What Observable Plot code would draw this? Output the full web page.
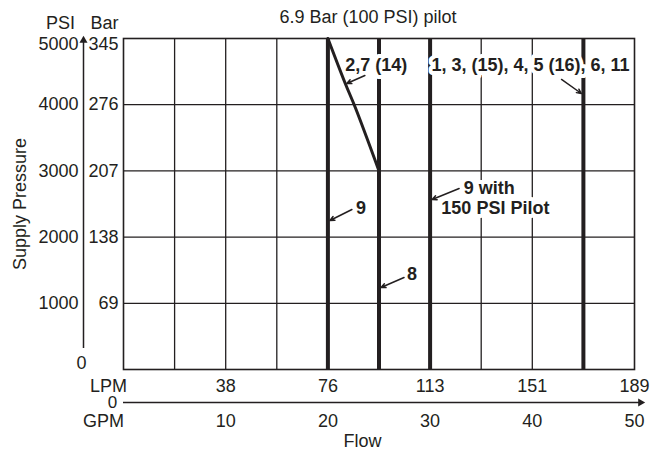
<!DOCTYPE html>
<html><head><meta charset="utf-8">
<script src="https://cdn.jsdelivr.net/npm/d3@7"></script>
<script src="https://cdn.jsdelivr.net/npm/@observablehq/plot@0.6"></script>
<style>body{margin:0;background:#fff}</style>
</head><body><div id="chart"></div>
<script>
// ---- data ----
const gpmTicks = [10, 20, 30, 40, 50];
const lpmLabels = ["38", "76", "113", "151", "189"];
const psiTicks = [1000, 2000, 3000, 4000];
const barLabels = ["69", "138", "207", "276"];
const psiTop = [5000];
const barTop = ["345"];
const gridX = [5, 10, 15, 20, 25, 30, 35, 40, 45];
const gridY = [1000, 2000, 3000, 4000];
const flowLines = [20, 25, 30, 45];            // GPM, constant-flow limits
const curveGpm = [20, 21.7, 22.7, 25];        // "2,7 (14)" curve
const curvePsi = [5000, 4320, 3950, 3000];
const labelText = ["2,7 (14)", "9 with", "150 PSI Pilot", "9", "8"];
const labelGpm = [21.7, 33.3, 31.1, 22.74, 27.74];
const labelPsi = [4590, 2734, 2432, 2432, 1435];
const bigLabel = ["1, 3, (15), 4, 5 (16), 6, 11"];
const bigLabelGpm = [39.82];
const bigLabelPsi = [4590];
const leaderX1 = [23.62, 42.86, 32.84, 22.35, 27.45];
const leaderY1 = [4441, 4381, 2734, 2417, 1390];
const leaderX2 = [21.85, 44.8, 30.2, 20.2, 25.2];
const leaderY2 = [4320, 4169, 2568, 2251, 1239];

const ink = "#231f20";
const curve = curveGpm.map((g, i) => ({g, p: curvePsi[i]}));
const labels = labelText.map((t, i) => ({t, g: labelGpm[i], p: labelPsi[i]}));
const big = bigLabel.map((t, i) => ({t, g: bigLabelGpm[i], p: bigLabelPsi[i]}));
const leaders = leaderX1.map((x1, i) => ({x1, y1: leaderY1[i], x2: leaderX2[i], y2: leaderY2[i]}));
const fs = 18;
const T = {fontSize: fs, fill: ink, lineAnchor: "middle"};

const chart = Plot.plot({
  width: 660, height: 449,
  marginLeft: 123, marginRight: 26, marginTop: 38, marginBottom: 80,
  x: {domain: [0, 50], axis: null},
  y: {domain: [0, 5000], axis: null},
  style: {fontFamily: "'Liberation Sans', Arial, Helvetica, sans-serif", background: "#fff", color: ink},
  marks: [
    Plot.ruleX(gridX, {stroke: ink, strokeWidth: 1.3}),
    Plot.ruleY(gridY, {stroke: ink, strokeWidth: 1.3}),
    Plot.ruleX(flowLines, {stroke: ink, strokeWidth: 4}),
    // annotation labels with white halo
    Plot.text(labels, {...T, x: "g", y: "p", text: "t", textAnchor: "start", fontWeight: "bold",
      stroke: "white", strokeWidth: 8}),
    Plot.text(big, {...T, x: "g", y: "p", text: "t", textAnchor: "middle", fontWeight: "bold",
      stroke: "white", strokeWidth: 8}),
    Plot.line(curve, {x: "g", y: "p", curve: "catmull-rom", stroke: ink, strokeWidth: 3}),
    Plot.arrow(leaders, {x1: "x1", y1: "y1", x2: "x2", y2: "y2", stroke: ink, strokeWidth: 1.5, headLength: 5, headAngle: 50}),
    Plot.frame({stroke: ink, strokeWidth: 1.6}),
    // left (pressure) axis
    Plot.ruleX([0], {stroke: ink, strokeWidth: 1.5, dx: -40, insetBottom: 21, insetTop: 3}),
    Plot.dot([0], {frameAnchor: "top-left", dx: -40, dy: 2, symbol: "triangle", r: 3, fill: ink, stroke: null}),
    Plot.text(psiTicks, {...T, y: d => d, text: d => String(d), frameAnchor: "left", textAnchor: "end", dx: -45}),
    Plot.text(psiTicks, {...T, y: d => d, text: (d, i) => barLabels[i], frameAnchor: "left", textAnchor: "end", dx: -5}),
    Plot.text(psiTop, {...T, y: d => d, text: d => String(d), frameAnchor: "left", textAnchor: "end", dx: -45, dy: 6}),
    Plot.text(psiTop, {...T, y: d => d, text: (d, i) => barTop[i], frameAnchor: "left", textAnchor: "end", dx: -5, dy: 6}),
    Plot.text(["0"], {...T, frameAnchor: "bottom-left", textAnchor: "middle", dx: -42, dy: -6}),
    Plot.text(["PSI"], {...T, frameAnchor: "top-left", textAnchor: "middle", dx: -63, dy: -15}),
    Plot.text(["Bar"], {...T, frameAnchor: "top-left", textAnchor: "middle", dx: -19, dy: -15}),
    Plot.text(["Supply Pressure"], {...T, frameAnchor: "left", textAnchor: "middle", rotate: -90, dx: -103}),
    // bottom (flow) axis
    Plot.ruleY([0], {stroke: ink, strokeWidth: 1.5, dy: 33, insetRight: -5}),
    Plot.dot([0], {frameAnchor: "bottom-right", dx: 6, dy: 33, symbol: "triangle", rotate: 90, r: 3, fill: ink, stroke: null}),
    Plot.text(gpmTicks, {...T, x: d => d, text: (d, i) => lpmLabels[i], frameAnchor: "bottom", textAnchor: "middle", dy: 17}),
    Plot.text(gpmTicks, {...T, x: d => d, text: d => String(d), frameAnchor: "bottom", textAnchor: "middle", dy: 52}),
    Plot.text(["LPM"], {...T, frameAnchor: "bottom-left", textAnchor: "middle", dx: -15, dy: 17}),
    Plot.text(["0"], {...T, fontSize: 17, frameAnchor: "bottom-left", textAnchor: "middle", dx: -11, dy: 33}),
    Plot.text(["GPM"], {...T, frameAnchor: "bottom-left", textAnchor: "middle", dx: -20, dy: 52}),
    Plot.text(["Flow"], {...T, frameAnchor: "bottom", textAnchor: "middle", dx: -16.5, dy: 72}),
    // title
    Plot.text(["6.9 Bar (100 PSI) pilot"], {...T, frameAnchor: "top", textAnchor: "middle", dx: -11, dy: -21})
  ]
});
document.getElementById("chart").appendChild(chart);
</script>
</body></html>
